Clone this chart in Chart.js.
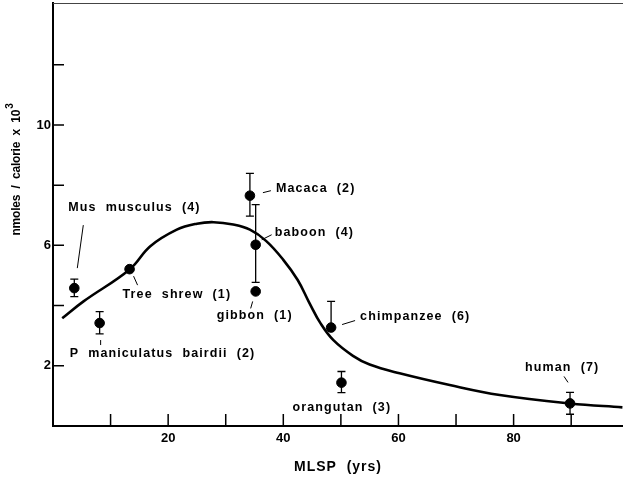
<!DOCTYPE html>
<html>
<head>
<meta charset="utf-8">
<script src="https://cdn.jsdelivr.net/npm/chart.js@4.4.0/dist/chart.umd.min.js"></script>
<style>
  html, body { margin: 0; padding: 0; background: #fff; }
  #wrap { width: 623px; height: 477px; }
</style>
</head>
<body>
<div id="wrap"><canvas id="chart" width="623" height="477"></canvas></div>
<script>
// Species measurements: MLSP (yrs) vs nmoles / calorie x 10^3
const species = ['Mus  musculus', 'P  maniculatus  bairdii', 'Tree  shrew', 'Macaca', 'baboon', 'gibbon', 'chimpanzee', 'orangutan', 'human'];
const counts = [4, 2, 1, 2, 4, 1, 6, 3, 7];
const mlsp = [3.7, 8.1, 13.3, 34.2, 35.2, 35.2, 48.3, 50.1, 89.8];
const nmoles = [4.58, 3.42, 5.21, 7.65, 6.02, 4.47, 3.27, 1.44, 0.75];
const errUp = [0.30, 0.38, 0, 0.74, 1.33, 0, 0.87, 0.37, 0.37];
const errDown = [0.28, 0.36, 0, 0.68, 1.25, 0, 0, 0.33, 0.36];

// fitted curve
const curveX = [1.6, 5.3, 13.3, 16.9, 21.5, 25, 27.9, 31.3, 34.2, 37, 40, 42.5, 44.5, 46.5, 48.7, 52.1, 55, 60.2, 68.9, 77.6, 89.8, 98.9];
const curveY = [3.58, 4.14, 5.2, 5.97, 6.52, 6.72, 6.77, 6.69, 6.52, 6.15, 5.52, 4.85, 4.1, 3.4, 2.85, 2.33, 2.04, 1.75, 1.36, 1.03, 0.75, 0.62];

const xTicks = [10, 20, 30, 40, 50, 60, 70, 80, 90];
const xLabels = [20, 40, 60, 80];
const yTicks = [2, 4, 6, 8, 10, 12];
const yLabels = [2, 6, 10];

// label placement relative to each point (px): text left/middle, leader start/end
const labelLayout = [
  { dx: -6, dy: -81, lead: [3, -20, 9, -63] },
  { dx: -30, dy: 31, lead: [1, 17, 1, 22] },
  { dx: -7, dy: 25, lead: [4, 7, 8, 16] },
  { dx: 26, dy: -7, lead: [13, -3, 21, -5] },
  { dx: 19, dy: -12, lead: [6, -5, 16, -10] },
  { dx: -39, dy: 24, lead: [-3, 10, -5, 17] },
  { dx: 29, dy: -11, lead: [11, -3, 24, -7] },
  { dx: -49, dy: 25, lead: null },
  { dx: -45, dy: -36, lead: [-6, -27, -2, -21] }
];

const FONT = "'Liberation Sans', Arial, sans-serif";

const figurePlugin = {
  id: 'figure',
  afterDraw(chart) {
    const { ctx, chartArea: area, scales: { x, y } } = chart;
    ctx.save();
    ctx.fillStyle = '#000';

    // top frame line
    ctx.strokeStyle = '#444';
    ctx.lineWidth = 1;
    ctx.beginPath();
    ctx.moveTo(area.left, area.top + 0.5);
    ctx.lineTo(area.right, area.top + 0.5);
    ctx.stroke();
    ctx.strokeStyle = '#000';

    // inward tick marks
    ctx.lineWidth = 1.5;
    ctx.beginPath();
    xTicks.forEach(v => {
      const px = x.getPixelForValue(v);
      ctx.moveTo(px, area.bottom);
      ctx.lineTo(px, area.bottom - 12);
    });
    yTicks.forEach(v => {
      const py = y.getPixelForValue(v);
      ctx.moveTo(area.left, py);
      ctx.lineTo(area.left + 11, py);
    });
    ctx.stroke();

    // error bars
    ctx.lineWidth = 1.3;
    mlsp.forEach((m, i) => {
      const px = x.getPixelForValue(m);
      const pc = y.getPixelForValue(nmoles[i]);
      const ends = [];
      if (errUp[i] > 0) ends.push(y.getPixelForValue(nmoles[i] + errUp[i]));
      if (errDown[i] > 0) ends.push(y.getPixelForValue(nmoles[i] - errDown[i]));
      ends.forEach(pe => {
        ctx.beginPath();
        ctx.moveTo(px, pc);
        ctx.lineTo(px, pe);
        ctx.moveTo(px - 4, pe);
        ctx.lineTo(px + 4, pe);
        ctx.stroke();
      });
    });

    // species labels with leader lines
    ctx.font = 'bold 12.5px ' + FONT;
    ctx.letterSpacing = '1.1px';
    ctx.textBaseline = 'middle';
    ctx.textAlign = 'left';
    ctx.lineWidth = 1;
    species.forEach((name, i) => {
      const px = x.getPixelForValue(mlsp[i]);
      const py = y.getPixelForValue(nmoles[i]);
      const lay = labelLayout[i];
      ctx.fillText(name + '  (' + counts[i] + ')', px + lay.dx, py + lay.dy);
      if (lay.lead) {
        ctx.beginPath();
        ctx.moveTo(px + lay.lead[0], py + lay.lead[1]);
        ctx.lineTo(px + lay.lead[2], py + lay.lead[3]);
        ctx.stroke();
      }
    });

    // axis titles
    ctx.font = 'bold 14px ' + FONT;
    ctx.letterSpacing = '1px';
    ctx.textAlign = 'center';
    ctx.fillText('MLSP  (yrs)', (area.left + area.right) / 2, 467);

    ctx.translate(17, 170);
    ctx.rotate(-Math.PI / 2);
    const main = 'nmoles  /  calorie  x  10';
    ctx.font = 'bold 12px ' + FONT;
    ctx.letterSpacing = '-0.2px';
    const w = ctx.measureText(main).width;
    ctx.font = 'bold 10px ' + FONT;
    const ws = ctx.measureText('3').width;
    const start = -(w + ws) / 2;
    ctx.textAlign = 'left';
    ctx.font = 'bold 12px ' + FONT;
    ctx.fillText(main, start, 0);
    ctx.font = 'bold 10px ' + FONT;
    ctx.fillText('3', start + w + 1, -7);
    ctx.restore();
  }
};

new Chart(document.getElementById('chart'), {
  type: 'scatter',
  data: {
    datasets: [
      {
        type: 'line',
        data: curveX.map((v, i) => ({ x: v, y: curveY[i] })),
        borderColor: '#000',
        borderWidth: 2.6,
        pointRadius: 0,
        tension: 0.4,
        fill: false
      },
      {
        data: mlsp.map((v, i) => ({ x: v, y: nmoles[i] })),
        backgroundColor: '#000',
        borderColor: '#000',
        pointRadius: 4.8,
        pointHoverRadius: 4.8
      }
    ]
  },
  options: {
    responsive: false,
    animation: false,
    devicePixelRatio: 1,
    layout: { autoPadding: false, padding: { top: 3, left: 0, right: 0, bottom: 0 } },
    plugins: { legend: { display: false }, tooltip: { enabled: false } },
    scales: {
      x: {
        type: 'linear',
        min: 0,
        max: 99,
        afterFit: s => { s.height = 51; s.paddingLeft = 0; s.paddingRight = 0; },
        grid: { display: false, drawTicks: false },
        border: { color: '#000', width: 2 },
        ticks: {
          stepSize: 10,
          autoSkip: false,
          maxRotation: 0,
          padding: 5,
          color: '#000',
          font: { family: FONT, size: 13, weight: 'bold' },
          // unlabelled ticks return null so they take no room at the ends
          callback: v => xLabels.includes(v) ? String(v) : null
        }
      },
      y: {
        type: 'linear',
        min: 0,
        max: 14.05,
        afterFit: s => { s.width = 53; s.paddingTop = 0; s.paddingBottom = 0; },
        grid: { display: false, drawTicks: false },
        border: { color: '#000', width: 2 },
        ticks: {
          stepSize: 2,
          autoSkip: false,
          padding: 2,
          color: '#000',
          font: { family: FONT, size: 13, weight: 'bold' },
          callback: v => yLabels.includes(v) ? String(v) : null
        }
      }
    }
  },
  plugins: [figurePlugin]
});
</script>
</body>
</html>
